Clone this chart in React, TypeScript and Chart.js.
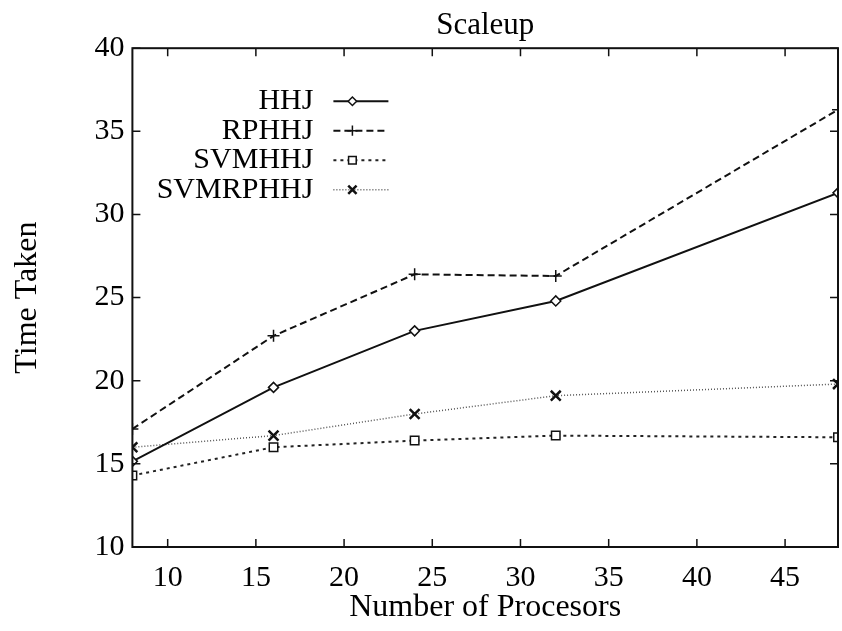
import React, { useEffect, useRef } from "react";
import { Chart, registerables } from "chart.js";

Chart.register(...registerables);

const PROCESSORS = [8, 16, 24, 32, 48];
const HHJ = [15.15, 19.6, 23.0, 24.8, 31.3];
const RPHHJ = [17.1, 22.7, 26.4, 26.3, 36.3];
const SVMHHJ = [14.3, 16.0, 16.4, 16.7, 16.6];
const SVMRPHHJ = [16.0, 16.7, 18.0, 19.1, 19.8];
const X_TICKS = [10, 15, 20, 25, 30, 35, 40, 45];
const Y_TICKS = [10, 15, 20, 25, 30, 35, 40];

const FONT = "'Liberation Serif', 'DejaVu Serif', serif";

function drawMarker(ctx: CanvasRenderingContext2D, style: string, x: number, y: number, r: number) {
  ctx.beginPath();
  if (style === "rectRot") {
    ctx.moveTo(x, y - r);
    ctx.lineTo(x + r, y);
    ctx.lineTo(x, y + r);
    ctx.lineTo(x - r, y);
    ctx.closePath();
    ctx.fillStyle = "#fff";
    ctx.fill();
    ctx.stroke();
  } else if (style === "rect") {
    ctx.rect(x - r * 0.75, y - r * 0.75, r * 1.5, r * 1.5);
    ctx.fillStyle = "#fff";
    ctx.fill();
    ctx.stroke();
  } else if (style === "cross") {
    ctx.moveTo(x - r, y);
    ctx.lineTo(x + r, y);
    ctx.moveTo(x, y - r);
    ctx.lineTo(x, y + r);
    ctx.stroke();
  } else if (style === "crossRot") {
    const d = r * 0.7;
    ctx.moveTo(x - d, y - d);
    ctx.lineTo(x + d, y + d);
    ctx.moveTo(x + d, y - d);
    ctx.lineTo(x - d, y + d);
    ctx.stroke();
  }
}

const framePlugin = {
  id: "frame",
  afterDatasetsDraw(chart: any) {
    const { ctx, chartArea, scales } = chart;
    const { left, right, top, bottom } = chartArea;
    ctx.save();
    ctx.strokeStyle = "#111";
    ctx.lineWidth = 2;
    ctx.setLineDash([]);
    ctx.strokeRect(left, top, right - left, bottom - top);
    const len = 8;
    ctx.lineWidth = 1.5;
    ctx.beginPath();
    X_TICKS.forEach((v) => {
      const px = scales.x.getPixelForValue(v);
      ctx.moveTo(px, bottom);
      ctx.lineTo(px, bottom - len);
      ctx.moveTo(px, top);
      ctx.lineTo(px, top + len);
    });
    Y_TICKS.forEach((v) => {
      const py = scales.y.getPixelForValue(v);
      ctx.moveTo(left, py);
      ctx.lineTo(left + len, py);
      ctx.moveTo(right, py);
      ctx.lineTo(right - len, py);
    });
    ctx.stroke();

    // legend (gnuplot style: label right-aligned, sample to the right)
    const textRight = left + 181;
    const sampleStart = left + 201;
    const sampleEnd = left + 256;
    const markX = left + 220;
    ctx.font = `30px ${FONT}`;
    ctx.textAlign = "right";
    ctx.textBaseline = "middle";
    chart.data.datasets.forEach((ds: any, i: number) => {
      const y = top + 53 + i * 29.5;
      ctx.fillStyle = "#000";
      ctx.fillText(ds.label, textRight, y);
      ctx.strokeStyle = ds.borderColor;
      ctx.lineWidth = ds.borderWidth;
      ctx.setLineDash(ds.borderDash || []);
      ctx.beginPath();
      ctx.moveTo(sampleStart, y);
      ctx.lineTo(sampleEnd, y);
      ctx.stroke();
      ctx.setLineDash([]);
      ctx.strokeStyle = ds.pointBorderColor;
      ctx.lineWidth = ds.pointBorderWidth;
      drawMarker(ctx, ds.pointStyle, markX, y, ds.pointRadius * 0.85);
    });
    ctx.restore();
  },
};

export default function App() {
  const canvasRef = useRef<HTMLCanvasElement | null>(null);

  useEffect(() => {
    document.body.style.margin = "0";
    const canvas = canvasRef.current;
    if (!canvas) return;
    const mk = (label: string, data: number[], opts: any) => ({
      label,
      data: PROCESSORS.map((x, i) => ({ x, y: data[i] })),
      fill: false,
      tension: 0,
      pointBorderColor: "#111",
      pointBackgroundColor: "#fff",
      ...opts,
    });
    const chart = new Chart(canvas, {
      type: "line",
      data: {
        datasets: [
          mk("HHJ", HHJ, {
            borderColor: "#111",
            borderWidth: 2,
            borderDash: [],
            pointStyle: "rectRot",
            pointRadius: 5,
            pointBorderWidth: 1.5,
          }),
          mk("RPHHJ", RPHHJ, {
            borderColor: "#111",
            borderWidth: 2,
            borderDash: [7, 4],
            pointStyle: "cross",
            pointRadius: 6,
            pointBorderWidth: 1.5,
          }),
          mk("SVMHHJ", SVMHHJ, {
            borderColor: "#222",
            borderWidth: 2,
            borderDash: [3, 4],
            pointStyle: "rect",
            pointRadius: 6,
            pointBorderWidth: 1.5,
          }),
          mk("SVMRPHHJ", SVMRPHHJ, {
            borderColor: "#555",
            borderWidth: 1.5,
            borderDash: [1, 2],
            pointStyle: "crossRot",
            pointRadius: 7,
            pointBorderWidth: 2.5,
          }),
        ],
      },
      options: {
        animation: false,
        responsive: false,
        maintainAspectRatio: false,
        layout: { autoPadding: false, padding: { left: 8, right: 4, top: 0, bottom: 0 } },
        plugins: {
          legend: { display: false },
          tooltip: { enabled: false },
          title: {
            display: true,
            fullSize: false,
            text: "Scaleup",
            color: "#000",
            font: { family: FONT, size: 31, weight: "normal" },
            padding: { top: 7, bottom: 4 },
          },
        },
        scales: {
          x: {
            type: "linear",
            min: 8,
            max: 48,
            afterBuildTicks: (scale: any) => {
              scale.ticks = X_TICKS.map((v) => ({ value: v }));
            },
            afterFit: (scale: any) => {
              scale.height = 84;
              scale.paddingLeft = 0;
              scale.paddingRight = 0;
            },
            grid: { display: false, drawTicks: false },
            border: { display: false },
            ticks: {
              color: "#000",
              font: { family: FONT, size: 30 },
              padding: 13,
              maxRotation: 0,
              autoSkip: false,
            },
            title: {
              display: true,
              text: "Number of Procesors",
              color: "#000",
              font: { family: FONT, size: 32 },
              padding: { top: 0, bottom: 4 },
            },
          },
          y: {
            type: "linear",
            min: 10,
            max: 40,
            afterBuildTicks: (scale: any) => {
              scale.ticks = Y_TICKS.map((v) => ({ value: v }));
            },
            grid: { display: false, drawTicks: false },
            border: { display: false },
            ticks: {
              color: "#000",
              font: { family: FONT, size: 30 },
              padding: 8,
            },
            title: {
              display: true,
              text: "Time Taken",
              color: "#000",
              font: { family: FONT, size: 32 },
              padding: { top: 0, bottom: 40 },
            },
          },
        },
      },
      plugins: [framePlugin],
    });
    return () => chart.destroy();
  }, []);

  return (
    <div style={{ position: "fixed", left: 0, top: 0, width: 842, height: 631, background: "#fff" }}>
      <canvas ref={canvasRef} width={842} height={631} />
    </div>
  );
}
